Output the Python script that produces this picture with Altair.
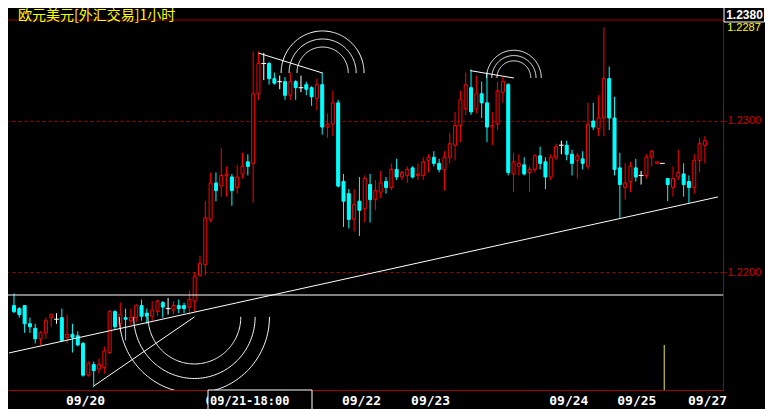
import json
import math
import altair as alt
import numpy as np
import pandas as pd

# ---------------- data (EUR/USD, 1-hour candles) ----------------
opens = [1.2178, 1.2176, 1.2178, 1.2166, 1.2163, 1.2156, 1.2160, 1.2170, 1.2169, 1.2170,
         1.2157, 1.2159, 1.2158, 1.2153, 1.2132, 1.2139, 1.2136, 1.2137, 1.2147, 1.2174,
         1.2166, 1.2170, 1.2168, 1.2170, 1.2178, 1.2173, 1.2171, 1.2174, 1.2180, 1.2176,
         1.2175, 1.2178, 1.2178, 1.2177, 1.2181, 1.2198, 1.2205, 1.2235, 1.2259, 1.2257,
         1.2264, 1.2263, 1.2256, 1.2265, 1.2273, 1.2272, 1.2318, 1.2338, 1.2338, 1.2328,
         1.2326, 1.2326, 1.2317, 1.2326, 1.2322, 1.2324, 1.2322, 1.2315, 1.2324, 1.2296,
         1.2298, 1.2312, 1.2260, 1.2252, 1.2235, 1.2247, 1.2242, 1.2258, 1.2248, 1.2253,
         1.2260, 1.2256, 1.2268, 1.2263, 1.2264, 1.2269, 1.2264, 1.2264, 1.2274, 1.2276,
         1.2272, 1.2268, 1.2276, 1.2284, 1.2297, 1.2308, 1.2322, 1.2308, 1.2318, 1.2312,
         1.2296, 1.2298, 1.2319, 1.2324, 1.2265, 1.2270, 1.2271, 1.2266, 1.2268, 1.2277,
         1.2273, 1.2263, 1.2276, 1.2284, 1.2284, 1.2278, 1.2274, 1.2275, 1.2270, 1.2300,
         1.2295, 1.2302, 1.2328, 1.2302, 1.2269, 1.2256, 1.2260, 1.2269, 1.2264, 1.2264,
         1.2276, 1.2272, 1.2272, 1.2262, 1.2256, 1.2263, 1.2265, 1.2260, 1.2256, 1.2274,
         1.2284]
highs = [1.2186, 1.2177, 1.2178, 1.2170, 1.2166, 1.2161, 1.2170, 1.2173, 1.2173, 1.2176,
         1.2172, 1.2166, 1.2161, 1.2154, 1.2141, 1.2141, 1.2143, 1.2151, 1.2175, 1.2175,
         1.2180, 1.2176, 1.2176, 1.2179, 1.2182, 1.2176, 1.2181, 1.2182, 1.2181, 1.2183,
         1.2181, 1.2182, 1.2180, 1.2188, 1.2200, 1.2211, 1.2247, 1.2266, 1.2266, 1.2282,
         1.2270, 1.2265, 1.2271, 1.2279, 1.2278, 1.2346, 1.2346, 1.2345, 1.2339, 1.2332,
         1.2330, 1.2329, 1.2332, 1.2327, 1.2330, 1.2326, 1.2323, 1.2328, 1.2332, 1.2305,
         1.2320, 1.2314, 1.2265, 1.2255, 1.2255, 1.2263, 1.2264, 1.2265, 1.2261, 1.2267,
         1.2263, 1.2272, 1.2275, 1.2267, 1.2270, 1.2270, 1.2272, 1.2276, 1.2278, 1.2280,
         1.2275, 1.2280, 1.2292, 1.2306, 1.2320, 1.2332, 1.2334, 1.2330, 1.2326, 1.2332,
         1.2306, 1.2326, 1.2329, 1.2325, 1.2279, 1.2278, 1.2276, 1.2270, 1.2278, 1.2283,
         1.2276, 1.2278, 1.2285, 1.2287, 1.2287, 1.2281, 1.2279, 1.2280, 1.2312, 1.2312,
         1.2317, 1.2362, 1.2336, 1.2316, 1.2279, 1.2272, 1.2273, 1.2275, 1.2267, 1.2278,
         1.2281, 1.2273, 1.2272, 1.2262, 1.2270, 1.2281, 1.2272, 1.2264, 1.2278, 1.2289,
         1.2290]
lows = [1.2173, 1.2170, 1.2160, 1.2160, 1.2153, 1.2152, 1.2156, 1.2164, 1.2166, 1.2154,
        1.2153, 1.2147, 1.2151, 1.2131, 1.2131, 1.2124, 1.2133, 1.2133, 1.2146, 1.2162,
        1.2161, 1.2155, 1.2165, 1.2167, 1.2168, 1.2166, 1.2168, 1.2171, 1.2170, 1.2172,
        1.2172, 1.2173, 1.2173, 1.2172, 1.2174, 1.2197, 1.2198, 1.2233, 1.2247, 1.2250,
        1.2250, 1.2244, 1.2252, 1.2262, 1.2264, 1.2246, 1.2314, 1.2327, 1.2324, 1.2324,
        1.2321, 1.2314, 1.2314, 1.2314, 1.2319, 1.2317, 1.2310, 1.2307, 1.2291, 1.2289,
        1.2290, 1.2256, 1.2230, 1.2229, 1.2227, 1.2224, 1.2233, 1.2233, 1.2241, 1.2249,
        1.2252, 1.2254, 1.2261, 1.2261, 1.2259, 1.2262, 1.2261, 1.2261, 1.2266, 1.2270,
        1.2266, 1.2254, 1.2272, 1.2274, 1.2286, 1.2304, 1.2304, 1.2305, 1.2302, 1.2286,
        1.2284, 1.2294, 1.2312, 1.2264, 1.2253, 1.2264, 1.2264, 1.2253, 1.2266, 1.2268,
        1.2255, 1.2261, 1.2274, 1.2278, 1.2274, 1.2264, 1.2262, 1.2268, 1.2268, 1.2294,
        1.2290, 1.2290, 1.2294, 1.2264, 1.2236, 1.2248, 1.2253, 1.2260, 1.2258, 1.2262,
        1.2270, 1.2272, 1.2272, 1.2247, 1.2250, 1.2261, 1.2250, 1.2246, 1.2252, 1.2266,
        1.2272]
closes = [1.2174, 1.2172, 1.2166, 1.2164, 1.2156, 1.2160, 1.2168, 1.2172, 1.2169, 1.2155,
          1.2159, 1.2157, 1.2152, 1.2132, 1.2140, 1.2135, 1.2139, 1.2148, 1.2174, 1.2164,
          1.2172, 1.2169, 1.2170, 1.2178, 1.2171, 1.2171, 1.2175, 1.2181, 1.2177, 1.2176,
          1.2178, 1.2176, 1.2176, 1.2182, 1.2197, 1.2206, 1.2236, 1.2259, 1.2254, 1.2264,
          1.2265, 1.2254, 1.2263, 1.2270, 1.2270, 1.2318, 1.2338, 1.2338, 1.2328, 1.2325,
          1.2326, 1.2317, 1.2326, 1.2322, 1.2322, 1.2321, 1.2316, 1.2324, 1.2296, 1.2298,
          1.2312, 1.2257, 1.2247, 1.2235, 1.2245, 1.2241, 1.2262, 1.2248, 1.2254, 1.2259,
          1.2256, 1.2268, 1.2263, 1.2266, 1.2268, 1.2263, 1.2265, 1.2273, 1.2276, 1.2272,
          1.2268, 1.2276, 1.2285, 1.2297, 1.2314, 1.2324, 1.2306, 1.2318, 1.2312, 1.2296,
          1.2297, 1.2320, 1.2326, 1.2266, 1.2273, 1.2272, 1.2265, 1.2268, 1.2277, 1.2272,
          1.2263, 1.2276, 1.2283, 1.2284, 1.2278, 1.2272, 1.2277, 1.2272, 1.2298, 1.2296,
          1.2302, 1.2328, 1.2302, 1.2268, 1.2258, 1.2259, 1.2270, 1.2263, 1.2264, 1.2276,
          1.2280, 1.2273, 1.2272, 1.2258, 1.2262, 1.2266, 1.2258, 1.2256, 1.2274, 1.2285,
          1.2287]

date_pos = [13.36, 39.6, 65.3, 78.3, 104.3, 117.1, 130.4]
date_labels = ["09/20", "09/21", "09/22", "09/23", "09/24", "09/25", "09/27"]
grid_prices = [1.2200, 1.2300]
support_price = [1.2185]
trend_k = [-0.93, 132.47]
trend_p = [1.21467, 1.22498]
fib_k = {"low": [15.03, 33.95], "top1": [46.0, 58.07], "top2": [85.84, 94.06]}
fib_p = {"low": [1.21249, 1.21705], "top1": [1.23449, 1.23317], "top2": [1.23333, 1.23284]}
fib_ratios = [0.382, 0.5, 0.618]
marker_k = [122.35]
marker_p = [1.2152, 1.2100]

title_text = "欧元美元[外汇交易]1小时"
top_price_text = "1.2380"
last_price_text = "1.2287"
cursor_text = "09/21-18:00"

# ---------------- layout / style ----------------
W, H = 715, 370
X_DOMAIN = [-0.1855, 132.468]
Y_DOMAIN = [1.212221, 1.236675]
RED, CYAN, WHITE = "#ff0000", "#00ffff", "#ffffff"
DARKRED = "#a00000"

n = len(opens)
df = pd.DataFrame({"k": list(range(n)), "open": opens, "high": highs,
                   "low": lows, "close": closes})
df["top"] = df[["open", "close"]].max(axis=1)
df["bot"] = df[["open", "close"]].min(axis=1)
df["col"] = np.where(df.close > df.open, RED, np.where(df.close < df.open, CYAN, WHITE))
df["fillc"] = np.where(df.close > df.open, "#000000", CYAN)
bodies = df[df.close != df.open]
dojis = df[df.close == df.open]

kx = W / (X_DOMAIN[1] - X_DOMAIN[0])
py = H / (Y_DOMAIN[1] - Y_DOMAIN[0])
rows = []


def add_line(name, ks, ps):
    for i, (k, p) in enumerate(zip(ks, ps)):
        rows.append({"id": name, "i": i, "k": k, "p": p})


add_line("trend", trend_k, trend_p)
for name in fib_k:
    ks, ps = fib_k[name], fib_p[name]
    add_line(name, ks, ps)
    L = math.hypot((ks[1] - ks[0]) * kx, (ps[1] - ps[0]) * py)
    sign = -1 if ps[0] < ps[1] else 1
    for ratio in fib_ratios:
        r = ratio * L
        for i, t in enumerate(np.linspace(0, math.pi, 121)):
            rows.append({"id": f"{name}-{ratio}", "i": i,
                         "k": ks[1] + r * math.cos(t) / kx,
                         "p": ps[1] + sign * r * math.sin(t) / py})
lines_df = pd.DataFrame(rows)

xscale = alt.Scale(domain=X_DOMAIN, nice=False, zero=False)
yscale = alt.Scale(domain=Y_DOMAIN, nice=False, zero=False)
label_expr = f"{json.dumps(date_labels)}[indexof({json.dumps(date_pos)}, datum.value)]"
xaxis = alt.Axis(orient="bottom", values=date_pos, labelExpr=label_expr, title=None,
                 labelColor="white", labelFont="DejaVu Sans Mono", labelFontWeight="bold",
                 labelFontSize=13, ticks=False, grid=False, domainColor=DARKRED,
                 labelPadding=4, labelOverlap=False, labelFlush=False, labelBound=False)
yaxis = alt.Axis(orient="right", values=grid_prices, format=".4f", title=None,
                 labelColor="#c80000", labelFont="Liberation Sans", labelFontSize=11,
                 grid=True, gridColor=DARKRED, gridDash=[3, 3], domainColor=DARKRED,
                 tickColor=DARKRED, tickSize=3, labelPadding=1)


def X(f):
    return alt.X(f, type="quantitative", scale=xscale, axis=xaxis)


def Y(f):
    return alt.Y(f, type="quantitative", scale=yscale, axis=yaxis)


wicks = alt.Chart(df).mark_rule(strokeWidth=1, clip=True).encode(
    x=X("k"), y=Y("low"), y2="high", color=alt.Color("col:N", scale=None))
body = alt.Chart(bodies).mark_bar(size=3, strokeWidth=1, clip=True).encode(
    x=X("k"), y=Y("bot"), y2="top",
    fill=alt.Fill("fillc:N", scale=None), stroke=alt.Stroke("col:N", scale=None))
doji = alt.Chart(dojis).transform_calculate(
    xa="datum.k - 0.45", xb="datum.k + 0.45").mark_rule(
    color=WHITE, strokeWidth=1, clip=True).encode(x=X("xa:Q"), x2="xb:Q", y=Y("open"))
support = alt.Chart(pd.DataFrame({"p": support_price})).mark_rule(
    color=WHITE, strokeWidth=1.2).encode(y=Y("p"))
lines = alt.Chart(lines_df).mark_line(color=WHITE, strokeWidth=1, clip=True).encode(
    x=X("k"), y=Y("p"), detail="id:N", order="i:Q")
marker = alt.Chart(pd.DataFrame({"k": marker_k, "p1": [marker_p[0]], "p2": [marker_p[1]]})
                   ).mark_rule(color="#e8e850", strokeWidth=1, clip=True).encode(
    x=X("k"), y=Y("p1"), y2="p2")
top_border = alt.Chart(pd.DataFrame({"a": [0]})).mark_rule(color=DARKRED).encode(
    y=alt.value(0))

one = pd.DataFrame({"a": [0]})
title = alt.Chart(one).mark_text(align="left", baseline="middle", color="#ffff00",
                                 font="Noto Sans CJK SC", fontSize=14).encode(
    x=alt.value(10), y=alt.value(-4.5), text=alt.value(title_text))
tr_box = alt.Chart(one).mark_rect(fill="black", stroke="white", strokeWidth=1).encode(
    x=alt.value(716), x2=alt.value(756.5), y=alt.value(-14), y2=alt.value(2))
tr_text = alt.Chart(one).mark_text(align="center", baseline="middle", color="white",
                                   font="Liberation Sans", fontWeight="bold", fontSize=12).encode(
    x=alt.value(736.5), y=alt.value(-5), text=alt.value(top_price_text))
last_text = alt.Chart(one).mark_text(align="center", baseline="middle", color="#ffff00",
                                     font="Liberation Sans", fontSize=11).encode(
    x=alt.value(736), y=alt.value(8), text=alt.value(last_price_text))
cur_box = alt.Chart(one).mark_rect(fill="black", stroke="white", strokeWidth=1).encode(
    x=alt.value(200), x2=alt.value(304), y=alt.value(370), y2=alt.value(396))
cur_text = alt.Chart(one).mark_text(align="left", baseline="middle", color="white",
                                    font="DejaVu Sans Mono", fontWeight="bold", fontSize=12).encode(
    x=alt.value(202), y=alt.value(381), text=alt.value(cursor_text))

chart = alt.layer(
    wicks, body, doji, support, lines, marker, top_border,
    title, tr_box, tr_text, last_text, cur_box, cur_text
).properties(
    width=W, height=H,
    padding={"left": 0, "top": 12, "right": 42, "bottom": 19},
    autosize=alt.AutoSizeParams(type="none"),
    background="black",
).configure_view(stroke=None)

chart.save("out.html", embed_options={"renderer": "svg", "actions": False})
